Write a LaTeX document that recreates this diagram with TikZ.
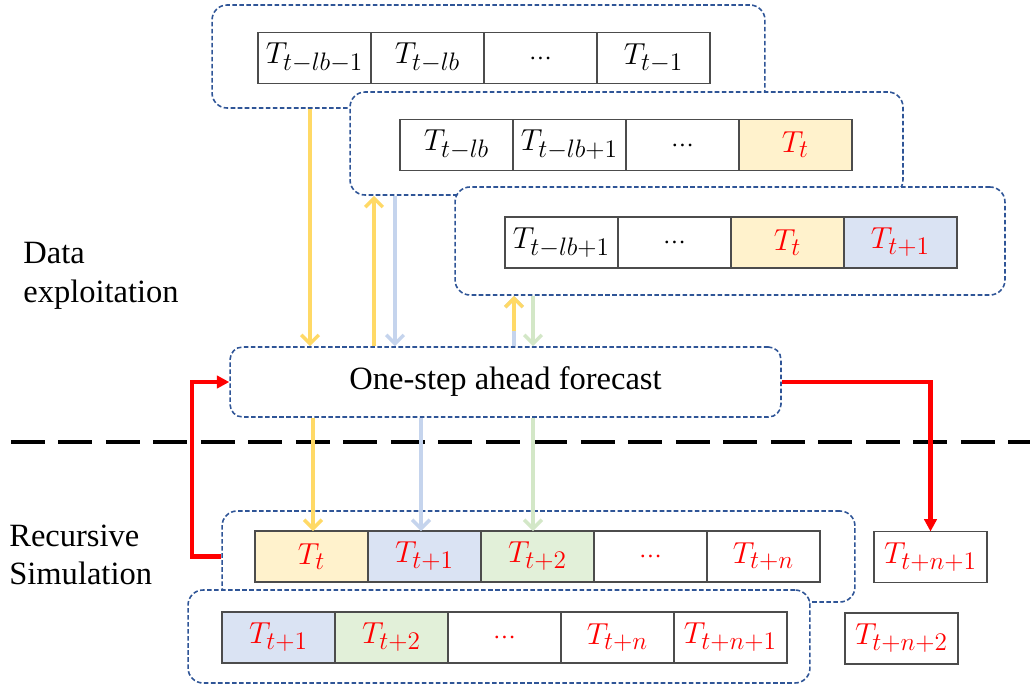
\documentclass[tikz,border=0pt]{standalone}
\usepackage{fontspec}
\setmainfont{Liberation Serif}
\usepackage{amsmath}
\usetikzlibrary{positioning}
\usetikzlibrary{arrows.meta}
\definecolor{panelblue}{HTML}{2F5597}
\definecolor{fillyellow}{HTML}{FFF2CC}
\definecolor{fillblue}{HTML}{DAE3F3}
\definecolor{fillgreen}{HTML}{E2F0D9}
\definecolor{arryellow}{HTML}{FFD966}
\definecolor{arrblue}{HTML}{C5D4ED}
\definecolor{arrgreen}{HTML}{D3E7C7}
\newcommand{\gap}{{\fontsize{13}{14}\selectfont\dots}}
\tikzset{
	panel/.style={draw=panelblue,fill=white,line width=0.9pt,dash pattern=on 2.6pt off 1.4pt,rounded corners=0.3cm},
	cell/.style={draw=black!70,line width=0.7pt,outer sep=0pt,inner sep=0pt,minimum width=2.26cm,minimum height=1.02cm,font=\fontsize{19}{22}\selectfont},
	hot/.style={text=red},
	flow/.style={line width=2pt,-{Straight Barb[length=5pt,width=10pt]}},
	loopback/.style={red,line width=2.3pt,-{Triangle[length=7pt,width=7pt]}},
	side/.style={anchor=west,align=left,inner sep=0pt,font=\fontsize{18.5}{22}\selectfont}
}

\begin{document}
\begin{tikzpicture}[x=0.02cm,y=-0.02cm]
	\useasboundingbox (0,0) rectangle (1030,689);

	%WINDOWS
	\node[panel,minimum width=11.06cm,minimum height=2.06cm] (win1) at (488.5,56.5) {};	%first window
	\node[cell,anchor=west] (a1) at (258,58) {$T_{t-lb-1}$};
	\node[cell,right=0pt of a1] (a2) {$T_{t-lb}$};
	\node[cell,right=0pt of a2] (a3) {\gap};
	\node[cell,right=0pt of a3] (a4) {$T_{t-1}$};
	%
	\node[panel,minimum width=11.06cm,minimum height=2.06cm] (win2) at (626.5,143.5) {};	%second window
	\node[cell,anchor=west] (b1) at (400,145) {$T_{t-lb}$};
	\node[cell,right=0pt of b1] (b2) {$T_{t-lb+1}$};
	\node[cell,right=0pt of b2] (b3) {\gap};
	\node[cell,hot,fill=fillyellow,right=0pt of b3] (b4) {$T_t$};
	%
	\node[panel,minimum width=11cm,minimum height=2.16cm] (win3) at (730,241) {};	%third window
	\node[cell,anchor=west] (c1) at (505,242.5) {$T_{t-lb+1}$};
	\node[cell,right=0pt of c1] (c2) {\gap};
	\node[cell,hot,fill=fillyellow,right=0pt of c2] (c3) {$T_t$};
	\node[cell,hot,fill=fillblue,right=0pt of c3] (c4) {$T_{t+1}$};

	%MODEL
	\node[draw=panelblue,line width=0.9pt,dash pattern=on 2.6pt off 1.4pt,rounded corners=0.25cm,
		minimum width=11.02cm,minimum height=1.4cm,font=\fontsize{18.5}{22}\selectfont] (fc) at (505.5,382) {One-step ahead forecast};

	%SEPARATOR
	\draw[line width=2.3pt,dash pattern=on 0.68cm off 0.27cm] (11,442)--(1030,442);

	%SIMULATION ROWS
	\node[panel,minimum width=12.66cm,minimum height=1.82cm] (win4) at (538.5,556.5) {};	%upper row
	\node[cell,hot,fill=fillyellow,anchor=west] (d1) at (255,556.5) {$T_t$};
	\node[cell,hot,fill=fillblue,right=0pt of d1] (d2) {$T_{t+1}$};
	\node[cell,hot,fill=fillgreen,right=0pt of d2] (d3) {$T_{t+2}$};
	\node[cell,hot,right=0pt of d3] (d4) {\gap};
	\node[cell,hot,right=0pt of d4] (d5) {$T_{t+n}$};
	\node[cell,hot] (next1) at (930.5,557) {$T_{t+n+1}$};
	%
	\node[panel,minimum width=12.44cm,minimum height=1.86cm] (win5) at (499,636.5) {};	%lower row
	\node[cell,hot,fill=fillblue,anchor=west] (e1) at (222,637.5) {$T_{t+1}$};
	\node[cell,hot,fill=fillgreen,right=0pt of e1] (e2) {$T_{t+2}$};
	\node[cell,hot,right=0pt of e2] (e3) {\gap};
	\node[cell,hot,right=0pt of e3] (e4) {$T_{t+n}$};
	\node[cell,hot,right=0pt of e4] (e5) {$T_{t+n+1}$};
	\node[cell,hot] (next2) at (901.5,638.5) {$T_{t+n+2}$};

	%ARROWS
	\draw[flow,arryellow] (310,0 |- win1.south)--(310,0 |- fc.north);
	\draw[flow,arryellow] (374,0 |- fc.north)--(374,0 |- win2.south);
	\draw[flow,arrblue] (395,0 |- win2.south)--(395,0 |- fc.north);
	\draw[flow,arrblue] (514,0 |- fc.north)--(514,0 |- win3.south);
	\coordinate (mix) at (514,331);
	\draw[flow,arryellow] (mix)--(mix |- win3.south);	%yellow over blue
	\draw[flow,arrgreen] (533,0 |- win3.south)--(533,0 |- fc.north);
	%
	\draw[flow,arryellow] (313,0 |- fc.south)--(313,0 |- d1.north);
	\draw[flow,arrblue] (421,0 |- fc.south)--(421,0 |- d2.north);
	\draw[flow,arrgreen] (533,0 |- fc.south)--(533,0 |- d3.north);
	%
	\coordinate (bend) at (192,0);
	\draw[loopback] (fc.east)-|(next1.north);
	\draw[loopback] (win4.west)--(bend |- win4.west)|-(fc.west);

	%LABELS
	\node[side] (explo) at (23,276) {Data\\exploitation};
	\node[side] (recur) at (9,555) {Recursive\\Simulation};
\end{tikzpicture}
\end{document}
